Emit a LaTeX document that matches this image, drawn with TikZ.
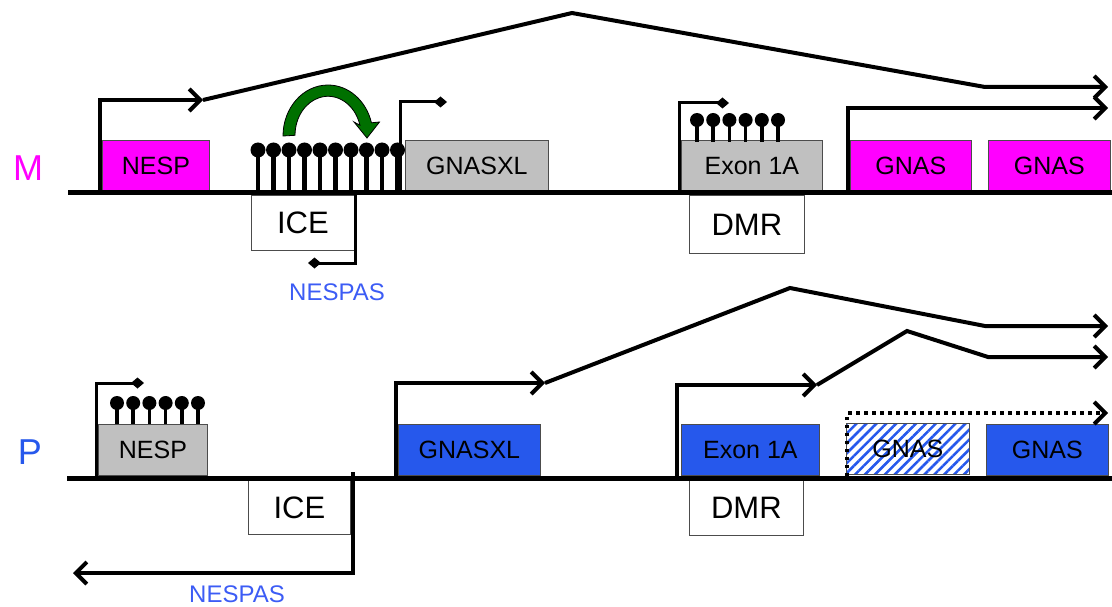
\documentclass[tikz,border=0pt]{standalone}
\usepackage{fontspec}
\setmainfont{Liberation Sans}
\usetikzlibrary{arrows.meta,patterns.meta}
\definecolor{mag}{RGB}{255,0,255}
\definecolor{pblue}{RGB}{38,88,236}
\definecolor{lgray}{RGB}{192,192,192}
\definecolor{dgreen}{RGB}{0,112,0}
\definecolor{tblue}{RGB}{60,92,245}
\begin{document}
\begin{tikzpicture}[x=1pt,y=-1pt,
  box/.style={draw=black!70, line width=0.8pt, inner sep=0pt, minimum height=51pt, font=\fontsize{25}{28}\selectfont, anchor=south west},
  lbox/.style={draw=black!70, line width=0.8pt, fill=white, inner sep=0pt, font=\fontsize{31}{33}\selectfont, anchor=north west},
  base/.style={line width=5pt},
  prom/.style={line width=4pt, line join=miter, -{Straight Barb[length=11pt,width=22pt]}},
  dprom/.style={line width=3pt, -{Diamond[length=13pt,width=11pt]}},
  stem/.style={line width=3.5pt},
  bstem/.style={line width=4.2pt},
  pop/.style={circle, fill=black, inner sep=0pt, minimum size=14pt},
  bpop/.style={circle, fill=black, inner sep=0pt, minimum size=15pt},
  lbl/.style={font=\fontsize{24}{26}\selectfont, text=tblue, inner sep=0pt},
  big/.style={font=\fontsize{36}{40}\selectfont}
]
\useasboundingbox (0,0) rectangle (1112,607);

% ================= M row =================
\node[big, text=mag] (Mlab) at (28,168) {M};
\coordinate (mL) at (68,193);
\coordinate (mR) at (1112,193);

% lollipops over ICE
\foreach \i in {0,...,10}{
  \pgfmathsetmacro\xx{258+15.5*\i}
  \draw[bstem] (\xx,192) -- (\xx,150);
  \node[bpop] (mpop\i) at (\xx,150) {};
}

\node[box, fill=mag, minimum width=107pt] (nespM) at (102,192) {NESP};
\node[box, fill=lgray, minimum width=143pt] (gnasxlM) at (405,192) {GNASXL};
\node[box, fill=lgray, minimum width=141pt] (exonM) at (681,192) {Exon 1A};
\node[box, fill=mag, minimum width=121pt] (gnasM1) at (850,192) {GNAS};
\node[box, fill=mag, minimum width=122pt] (gnasM2) at (988,192) {GNAS};
\node[lbox, minimum width=103pt, minimum height=55pt] (iceM) at (251,195) {ICE};
\node[lbox, minimum width=115pt, minimum height=58pt] (dmrM) at (689,195) {DMR};

\draw[base] (mL) -- (mR);

% Exon 1A lollipops (M)
\foreach \i in {0,...,5}{
  \pgfmathsetmacro\xx{697+16.2*\i}
  \draw[stem] (\xx,142) -- (\xx,120);
  \node[pop] (epop\i) at (\xx,120) {};
}

% NESP transcript (M)
\coordinate (n0) at (100,195);
\coordinate (n1) at (203,100);
\coordinate (n2) at (572,13);
\coordinate (n3) at (985,87);
\coordinate (n4) at (1108,87);
\draw[prom] (n0) |- (n1);
\draw[prom] (n1) -- (n2) -- (n3) -- (n4);

% GNASXL promoter (M, silenced)
\coordinate (x0) at (400,195);
\coordinate (x1) at (447,102);
\draw[dprom] (x0) |- (x1);

% NESPAS promoter (M, silenced)
\coordinate (a0) at (355,193);
\coordinate (a1) at (308,263);
\draw[dprom] (a0) |- (a1);
\node[lbl] (nespasM) at (337,292) {NESPAS};

% Exon 1A promoter (M, silenced)
\coordinate (e0) at (679,195);
\coordinate (e1) at (729,103);
\draw[dprom] (e0) |- (e1);

% GNAS promoter (M)
\coordinate (g0) at (848,195);
\coordinate (g1) at (1108,108);
\draw[prom] (g0) |- (g1);

% green curved arrow
\draw[fill=dgreen, draw=black, line width=0.8pt, line join=miter]
  (283,136) arc[start angle=180, end angle=345, x radius=45, y radius=51]
  -- (379.5,122) -- (367,138) -- (354,122) -- (359.9,125.2)
  arc[start angle=345, end angle=180, x radius=33, y radius=39] -- cycle;

% ================= P row =================
\node[big, text=pblue] (Plab) at (30,452) {P};
\coordinate (pL) at (67,478);
\coordinate (pR) at (1112,478);

% NESP lollipops (P)
\foreach \i in {0,...,5}{
  \pgfmathsetmacro\xx{117+16.2*\i}
  \draw[stem] (\xx,425) -- (\xx,403);
  \node[pop] (ppop\i) at (\xx,403) {};
}

\node[box, fill=lgray, minimum width=109pt] (nespP) at (98,476) {NESP};
\node[box, fill=pblue, minimum width=142pt] (gnasxlP) at (398,476) {GNASXL};
\node[box, fill=pblue, minimum width=138pt] (exonP) at (681,476) {Exon 1A};
\node[box, pattern={Lines[angle=45,distance=7pt,line width=2.6pt]}, pattern color=pblue, minimum width=123pt] (gnasPh) at (845,476) {GNAS};
\node[box, fill=pblue, minimum width=122pt] (gnasP) at (986,476) {GNAS};
\node[lbox, minimum width=102pt, minimum height=54pt] (iceP) at (248,480) {ICE};
\node[lbox, minimum width=114pt, minimum height=55pt] (dmrP) at (689,480) {DMR};

\draw[base] (pL) -- (pR);

% NESP promoter (P, silenced)
\coordinate (q0) at (96,478);
\coordinate (q1) at (144,383);
\draw[dprom] (q0) |- (q1);

% NESPAS transcript (P)
\coordinate (s0) at (353,472);
\coordinate (s1) at (73,573);
\draw[prom] (s0) |- (s1);
\node[lbl] (nespasP) at (237,594) {NESPAS};

% GNASXL transcript (P)
\coordinate (t0) at (396,480);
\coordinate (t1) at (545,383);
\coordinate (t2) at (790,288);
\coordinate (t3) at (985,326);
\coordinate (t4) at (1108,326);
\draw[prom] (t0) |- (t1);
\draw[prom] (t1) -- (t2) -- (t3) -- (t4);

% Exon 1A transcript (P)
\coordinate (u0) at (677,480);
\coordinate (u1) at (817,385);
\coordinate (u2) at (907,331);
\coordinate (u3) at (988,357);
\coordinate (u4) at (1108,357);
\draw[prom] (u0) |- (u1);
\draw[prom] (u1) -- (u2) -- (u3) -- (u4);

% GNAS dotted (P)
\coordinate (v0) at (847,476);
\coordinate (v1) at (1108,413);
\draw[prom, dash pattern=on 3.5pt off 4.5pt] (v0) |- (v1);
\end{tikzpicture}
\end{document}
